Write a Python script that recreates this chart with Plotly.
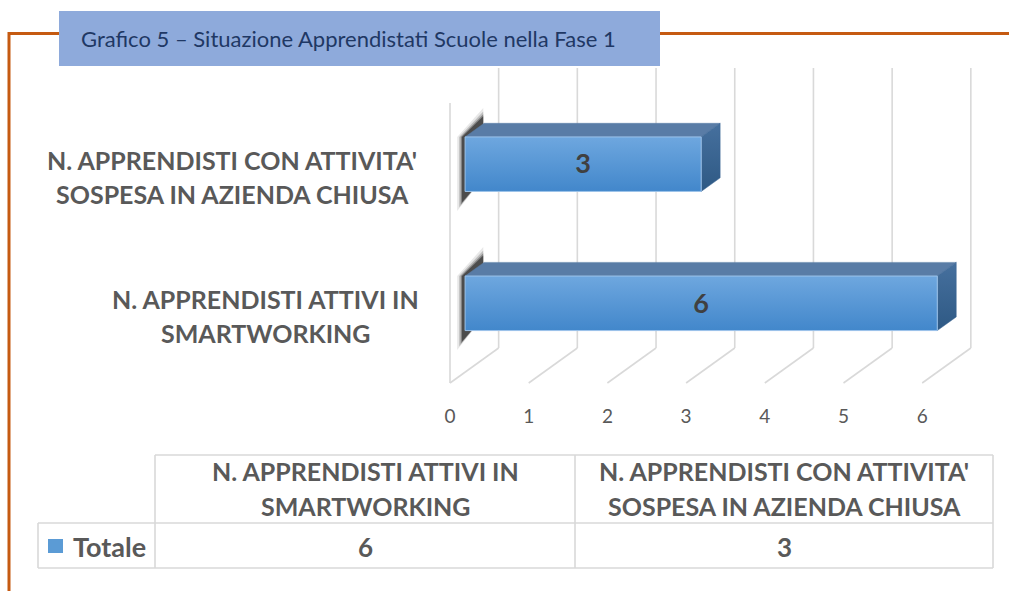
import plotly.graph_objects as go

# ---------------- data ----------------
categories = [
    "N. APPRENDISTI ATTIVI IN SMARTWORKING",
    "N. APPRENDISTI CON ATTIVITA' SOSPESA IN AZIENDA CHIUSA",
]
category_lines = [
    ["N. APPRENDISTI ATTIVI IN", "SMARTWORKING"],
    ["N. APPRENDISTI CON ATTIVITA'", "SOSPESA IN AZIENDA CHIUSA"],
]
values = [6, 3]
series_name = "Totale"
x_ticks = [0, 1, 2, 3, 4, 5, 6]
title_text = "Grafico 5 – Situazione Apprendistati Scuole nella Fase 1"

# ---------------- layout constants ----------------
W, H = 1009, 591
FONT = "Lato, 'Open Sans', sans-serif"
GRAY_TXT = "#595959"
DARK_TXT = "#404040"
GRID = "#D9D9D9"
ORANGE = "#C55A11"

# pseudo-3D projection (x in value units, y in category-index units)
DX, DY = 0.618, 0.2516          # full depth offset
Z_FRONT, Z_BACK = 0.31, 0.70    # bar front / back depth
HALF_H = 0.196                  # half bar thickness
FLOOR_Y = -0.573                # front floor level
TOP_Y = 1.6916                  # top of back wall
TICK_LABEL_Y = -0.825
VALUE_LABEL_DY = -0.018

X_RANGE = [-0.5, 7.0]
Y_RANGE = [-0.95, 1.95]
X_PX0, X_SCALE = 450.0, 78.7
Y_PX0, Y_SCALE = 303.3, 139.1

def px_to_paper_x(px):
    return px / W

def px_to_paper_y(py):
    return 1 - py / H

x_dom = [(X_PX0 + X_RANGE[0] * X_SCALE) / W, (X_PX0 + X_RANGE[1] * X_SCALE) / W]
y_dom = [1 - (Y_PX0 - Y_RANGE[0] * Y_SCALE) / H, 1 - (Y_PX0 - Y_RANGE[1] * Y_SCALE) / H]

fig = go.Figure()

# ---------------- walls / gridlines ----------------
gx, gy = [], []
for t in x_ticks:
    gx += [t, t + DX, None]
    gy += [FLOOR_Y, FLOOR_Y + DY, None]
    gx += [t + DX, t + DX, None]
    gy += [FLOOR_Y + DY, TOP_Y, None]
gx += [x_ticks[0], x_ticks[0], None]
gy += [FLOOR_Y, TOP_Y - DY, None]
fig.add_trace(go.Scatter(x=gx, y=gy, mode="lines",
                         line=dict(color=GRID, width=1.6),
                         hoverinfo="skip", showlegend=False))

# ---------------- 3D bars ----------------
for i, v in enumerate(values):
    x0f, x1f = 0 + Z_FRONT * DX, v + Z_FRONT * DX
    x0b, x1b = 0 + Z_BACK * DX, v + Z_BACK * DX
    yTf, yBf = i + HALF_H, i - HALF_H
    dyb = (Z_BACK - Z_FRONT) * DY
    yTb, yBb = yTf + dyb, yBf + dyb

    # soft shadow at left
    for op, grow in [(0.10, 0.07), (0.2, 0.045), (0.35, 0.025), (0.55, 0.01)]:
        fig.add_trace(go.Scatter(
            x=[x0f - 0.03 - grow, x0f - 0.03 - grow, x0b - 0.01, x0b - 0.01, x0f - 0.03 - grow],
            y=[yBf - 0.07 - grow, yTf, yTb + 0.04 + grow, yBb, yBf - 0.07 - grow],
            mode="lines", fill="toself", line=dict(width=0),
            fillcolor=f"rgba(30,30,30,{op})", hoverinfo="skip", showlegend=False))

    # top face
    fig.add_trace(go.Scatter(
        x=[x0f, x1f, x1b, x0b, x0f], y=[yTf, yTf, yTb, yTb, yTf],
        mode="lines", fill="toself", line=dict(width=0.5, color="#587CA6"),
        fillcolor="#597CA6", hoverinfo="skip", showlegend=False))
    # right side face
    fig.add_trace(go.Scatter(
        x=[x1f, x1f, x1b, x1b, x1f], y=[yBf, yTf, yTb, yBb, yBf],
        mode="lines", fill="toself", line=dict(width=0.5, color="#3A6592"),
        fillgradient=dict(type="vertical",
                          colorscale=[[0, "#2E5984"], [1, "#46709E"]]),
        hoverinfo="skip", showlegend=False))
    # front face
    fig.add_trace(go.Scatter(
        x=[x0f, x1f, x1f, x0f, x0f], y=[yBf, yBf, yTf, yTf, yBf],
        mode="lines", fill="toself", line=dict(width=1, color="#9CC3EA"),
        fillgradient=dict(type="vertical",
                          colorscale=[[0, "#4287CB"], [1, "#6EA7DF"]]),
        hoverinfo="skip", showlegend=False))
    # value label
    fig.add_trace(go.Scatter(
        x=[(x0f + x1f) / 2], y=[i + VALUE_LABEL_DY], mode="text", text=[f"<b>{v}</b>"],
        textfont=dict(family=FONT, size=27, color=DARK_TXT),
        hoverinfo="skip", showlegend=False))

# ---------------- tick labels ----------------
fig.add_trace(go.Scatter(
    x=x_ticks, y=[TICK_LABEL_Y] * len(x_ticks), mode="text",
    text=[str(t) for t in x_ticks],
    textfont=dict(family=FONT, size=19, color=GRAY_TXT),
    hoverinfo="skip", showlegend=False))

fig_ann = []
# ---------------- category labels ----------------
label_right_px = [422, 424]
label_width_px = [314, 384]
for i, lines in enumerate(category_lines):
    yc = i - 0.092
    cx = label_right_px[i] - label_width_px[i] / 2
    for j, line in enumerate(lines):
        off = (-0.5 + j) * 34.5 / Y_SCALE
        fig_ann.append(dict(
            xref="paper", yref="y", x=px_to_paper_x(cx), y=yc - off,
            text=f"<b>{line}</b>", showarrow=False, xanchor="center", yanchor="middle",
            font=dict(family=FONT, size=25, color=GRAY_TXT)))

# ---------------- title box ----------------
shapes = []
shapes.append(dict(type="rect", xref="paper", yref="paper",
                   x0=px_to_paper_x(59), x1=px_to_paper_x(660),
                   y0=px_to_paper_y(66), y1=px_to_paper_y(11),
                   fillcolor="#8EAADB", line=dict(width=0), layer="above"))
fig_ann.append(dict(xref="paper", yref="paper", x=px_to_paper_x(79), y=px_to_paper_y(38.5),
                    text=title_text, showarrow=False, xanchor="left", yanchor="middle",
                    font=dict(family=FONT, size=22, color="#1F3864")))

# orange frame
for (xa, ya, xb, yb) in [(9, 33.5, 59, 33.5), (660, 33.5, 1009, 33.5), (9, 32, 9, 591)]:
    shapes.append(dict(type="line", xref="paper", yref="paper",
                       x0=px_to_paper_x(xa), y0=px_to_paper_y(ya),
                       x1=px_to_paper_x(xb), y1=px_to_paper_y(yb),
                       line=dict(color=ORANGE, width=3)))

# ---------------- data table ----------------
T_TOP, T_MID, T_BOT = 455, 523, 568
C0, C1, C2, C3 = 38, 155, 575, 993
tbl_lines = [
    (C1, T_TOP, C3, T_TOP),
    (C0, T_MID, C3, T_MID),
    (C0, T_BOT, C3, T_BOT),
    (C0, T_MID, C0, T_BOT),
    (C1, T_TOP, C1, T_BOT),
    (C2, T_TOP, C2, T_BOT),
    (C3, T_TOP, C3, T_BOT),
]
for (xa, ya, xb, yb) in tbl_lines:
    shapes.append(dict(type="line", xref="paper", yref="paper",
                       x0=px_to_paper_x(xa), y0=px_to_paper_y(ya),
                       x1=px_to_paper_x(xb), y1=px_to_paper_y(yb),
                       line=dict(color=GRID, width=1.6)))

col_centers = [(C1 + C2) / 2, (C2 + C3) / 2]
for k, lines in enumerate(category_lines):
    for j, line in enumerate(lines):
        fig_ann.append(dict(xref="paper", yref="paper", x=px_to_paper_x(col_centers[k]),
                            y=px_to_paper_y(471 + 35 * j), text=f"<b>{line}</b>",
                            showarrow=False, xanchor="center", yanchor="middle",
                            font=dict(family=FONT, size=25, color=GRAY_TXT)))
    fig_ann.append(dict(xref="paper", yref="paper", x=px_to_paper_x(col_centers[k]),
                        y=px_to_paper_y(546.5), text=f"<b>{values[k]}</b>",
                        showarrow=False, xanchor="center", yanchor="middle",
                        font=dict(family=FONT, size=26, color=GRAY_TXT)))
# legend key + series name
shapes.append(dict(type="rect", xref="paper", yref="paper",
                   x0=px_to_paper_x(48), x1=px_to_paper_x(63),
                   y0=px_to_paper_y(553), y1=px_to_paper_y(539),
                   fillcolor="#5B9BD5", line=dict(width=0)))
fig_ann.append(dict(xref="paper", yref="paper", x=px_to_paper_x(71), y=px_to_paper_y(546.5),
                    text=f"<b>{series_name}</b>", showarrow=False, xanchor="left", yanchor="middle",
                    font=dict(family=FONT, size=27, color=GRAY_TXT)))

fig.update_layout(
    width=W, height=H,
    margin=dict(l=0, r=0, t=0, b=0),
    paper_bgcolor="white", plot_bgcolor="white",
    showlegend=False,
    xaxis=dict(domain=x_dom, range=X_RANGE, visible=False, fixedrange=True),
    yaxis=dict(domain=y_dom, range=Y_RANGE, visible=False, fixedrange=True),
    shapes=shapes,
    annotations=fig_ann,
    hovermode=False,
)

fig.write_html("out.html", config={"displayModeBar": False},
               post_script="document.body.style.margin='0';document.body.style.overflow='hidden';")
